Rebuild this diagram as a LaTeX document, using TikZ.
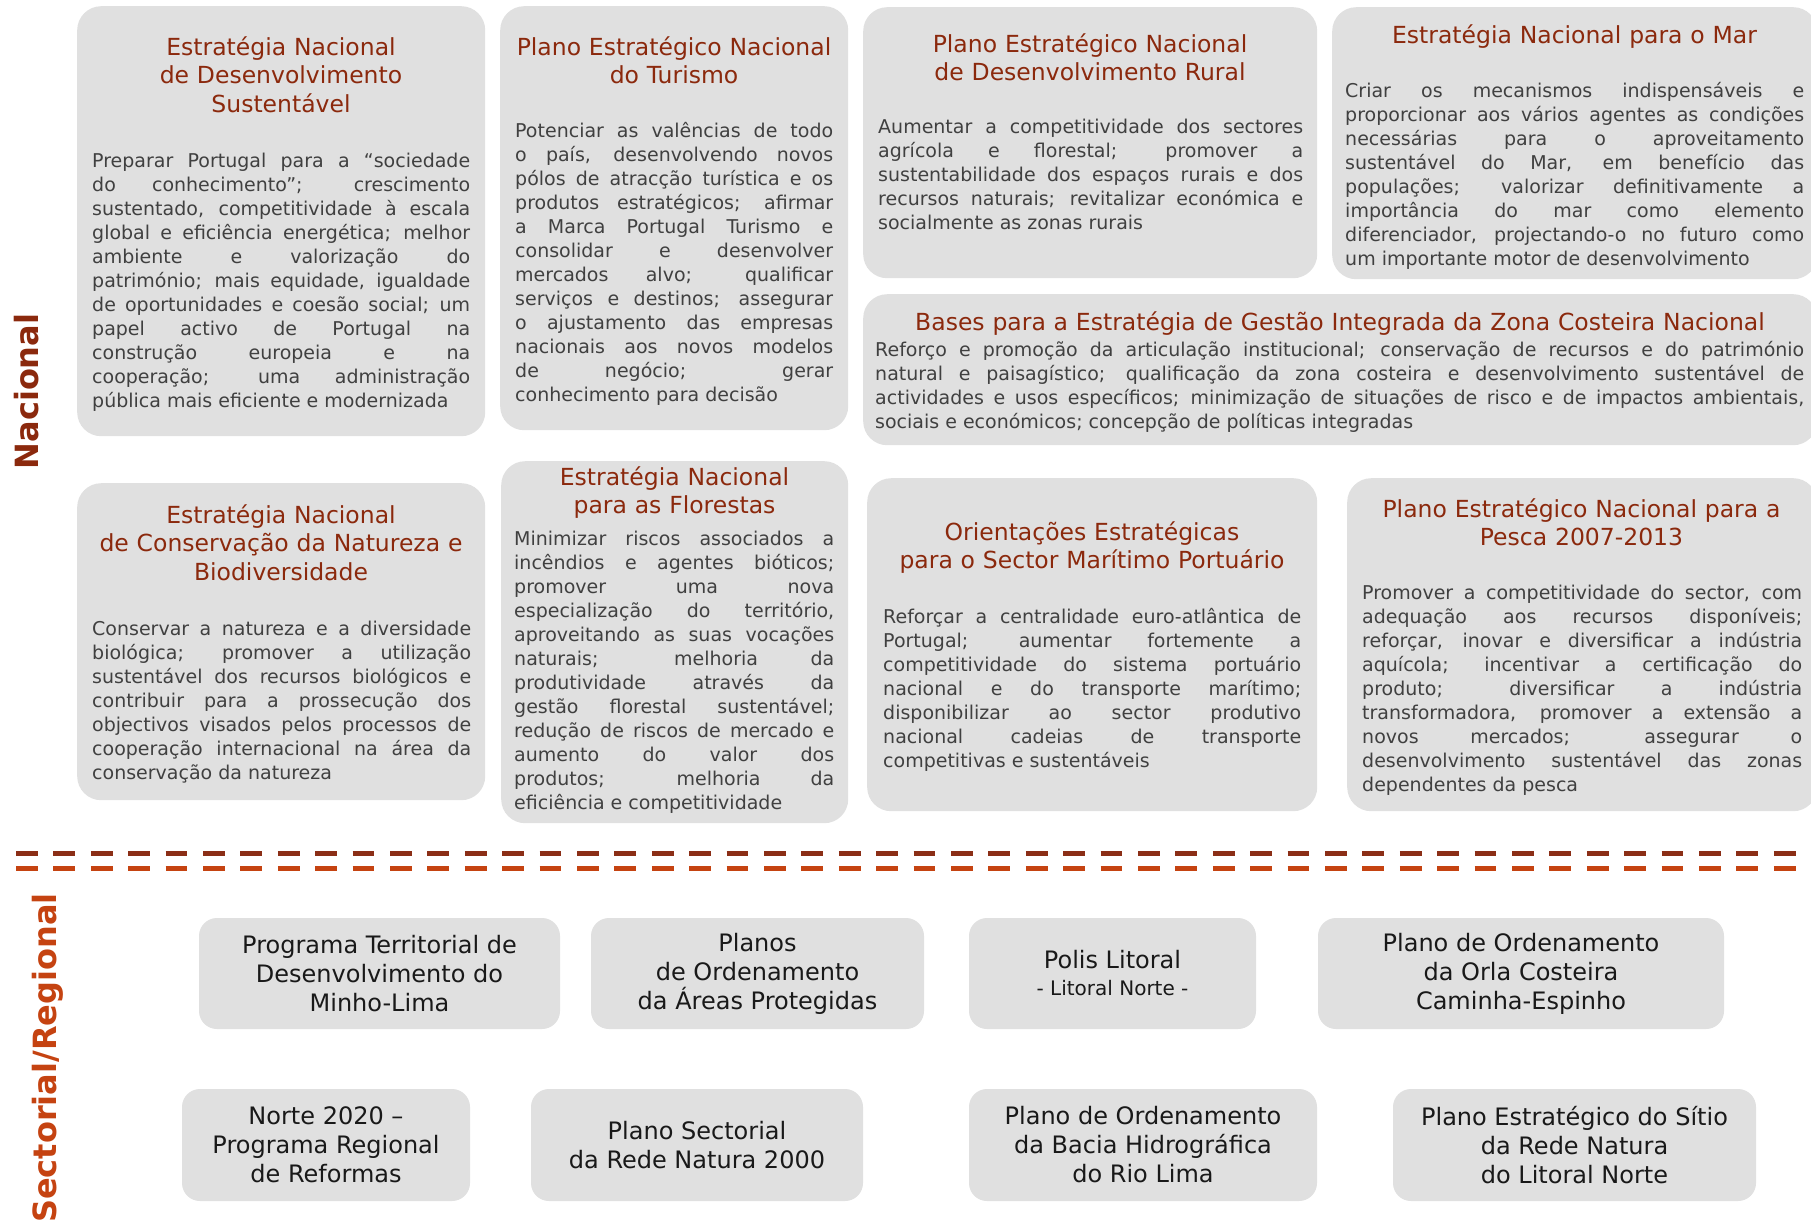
\documentclass[tikz,border=0pt]{standalone}
\usepackage{fontspec}
\setmainfont{DejaVu Sans}
\usepackage{xcolor}
\usetikzlibrary{positioning}

\definecolor{panelgray}{RGB}{224,224,224}
\definecolor{titlered}{RGB}{139,41,13}
\definecolor{bodygray}{RGB}{64,64,64}
\definecolor{darkrust}{RGB}{139,46,22}
\definecolor{rust}{RGB}{197,67,17}

\begin{document}
\begin{tikzpicture}[x=1pt, y=-1pt,
    panel/.style={fill=panelgray, draw=none, rounded corners=24pt, inner sep=0pt, anchor=north west},
    chip/.style={fill=panelgray, draw=none, rounded corners=18pt, inner sep=0pt, align=center,
      text=black!90, font=\fontsize{24}{29}\selectfont},
    heading/.style={text=titlered, align=center, inner sep=0pt, anchor=base,
      font=\fontsize{23.5}{28.5}\selectfont},
    blurb/.style={text=bodygray, align=justify, inner sep=0pt, anchor=base west,
      font=\fontsize{19}{24}\selectfont,
      execute at begin node={\tolerance=10000\hbadness=10000\hyphenpenalty=10000}},
    level/.style={rotate=90, anchor=base, inner sep=0pt, font=\fontsize{32}{38}\selectfont\bfseries},
    divider/.style={line width=5pt, dash pattern=on 21.7pt off 15.7pt}]

    % Draw page
    \fill[white] (0,0) rectangle (1811,1224);
    \useasboundingbox (0,0) rectangle (1811,1224);
    \clip (0,0) rectangle (1811,1224);

    % Draw level labels
    \node[level, text=titlered] (nacional) at (38,391.5) {Nacional};
    \node[level, text=rust] (sectorial) at (56,1058) {Sectorial/Regional};

    % Draw national strategies (upper row)
    \node[panel, minimum width=408pt, minimum height=430pt] (ends) at (77,6) {};
    \node[heading, text width=380pt] (endsT) at (281,55) {Estratégia Nacional\\de Desenvolvimento\\Sustentável};
    \node[blurb, text width=378pt] (endsB) at (92,167) {Preparar Portugal para a “sociedade\linebreak
      do conhecimento”; crescimento\linebreak
      sustentado, competitividade à escala\linebreak
      global e eficiência energética; melhor\linebreak
      ambiente e valorização do\linebreak
      património; mais equidade, igualdade\linebreak
      de oportunidades e coesão social; um\linebreak
      papel activo de Portugal na\linebreak
      construção europeia e na\linebreak
      cooperação; uma administração\linebreak
      pública mais eficiente e modernizada};

    \node[panel, minimum width=348pt, minimum height=424pt] (pent) at (500,6) {};
    \node[heading, text width=330pt] (pentT) at (674,55) {Plano Estratégico Nacional\\do Turismo};
    \node[blurb, text width=318pt] (pentB) at (515,137) {Potenciar as valências de todo\linebreak
      o país, desenvolvendo novos\linebreak
      pólos de atracção turística e os\linebreak
      produtos estratégicos; afirmar\linebreak
      a Marca Portugal Turismo e\linebreak
      consolidar e desenvolver\linebreak
      mercados alvo; qualificar\linebreak
      serviços e destinos; assegurar\linebreak
      o ajustamento das empresas\linebreak
      nacionais aos novos modelos\linebreak
      de negócio; gerar\linebreak
      conhecimento para decisão};

    \node[panel, minimum width=454pt, minimum height=271pt] (pendr) at (863,7) {};
    \node[heading, text width=430pt] (pendrT) at (1090,52) {Plano Estratégico Nacional\\de Desenvolvimento Rural};
    \node[blurb, text width=425pt] (pendrB) at (878,133) {Aumentar a competitividade dos sectores\linebreak
      agrícola e florestal; promover a\linebreak
      sustentabilidade dos espaços rurais e dos\linebreak
      recursos naturais; revitalizar económica e\linebreak
      socialmente as zonas rurais};

    \node[panel, minimum width=485pt, minimum height=272pt] (enm) at (1332,7) {};
    \node[heading, text width=460pt] (enmT) at (1574.5,43) {Estratégia Nacional para o Mar};
    \node[blurb, text width=459pt] (enmB) at (1345,97) {Criar os mecanismos indispensáveis e\linebreak
      proporcionar aos vários agentes as condições\linebreak
      necessárias para o aproveitamento\linebreak
      sustentável do Mar, em benefício das\linebreak
      populações; valorizar definitivamente a\linebreak
      importância do mar como elemento\linebreak
      diferenciador, projectando-o no futuro como\linebreak
      um importante motor de desenvolvimento};

    \node[panel, minimum width=954pt, minimum height=151pt] (gizc) at (863,294) {};
    \node[heading, text width=930pt] (gizcT) at (1340,330) {Bases para a Estratégia de Gestão Integrada da Zona Costeira Nacional};
    \node[blurb, text width=929pt] (gizcB) at (875,356) {Reforço e promoção da articulação institucional; conservação de recursos e do património\linebreak
      natural e paisagístico; qualificação da zona costeira e desenvolvimento sustentável de\linebreak
      actividades e usos específicos; minimização de situações de risco e de impactos ambientais,\linebreak
      sociais e económicos; concepção de políticas integradas};

    % Draw national strategies (lower row)
    \node[panel, minimum width=408pt, minimum height=317pt] (encnb) at (77,483) {};
    \node[heading, text width=400pt] (encnbT) at (281,523) {Estratégia Nacional\\de Conservação da Natureza e\\Biodiversidade};
    \node[blurb, text width=379pt] (encnbB) at (92,635) {Conservar a natureza e a diversidade\linebreak
      biológica; promover a utilização\linebreak
      sustentável dos recursos biológicos e\linebreak
      contribuir para a prossecução dos\linebreak
      objectivos visados pelos processos de\linebreak
      cooperação internacional na área da\linebreak
      conservação da natureza};

    \node[panel, minimum width=347pt, minimum height=362pt] (enf) at (501,461) {};
    \node[heading, text width=330pt] (enfT) at (674.5,485) {Estratégia Nacional\\para as Florestas};
    \node[blurb, text width=320pt] (enfB) at (514,545) {Minimizar riscos associados a\linebreak
      incêndios e agentes bióticos;\linebreak
      promover uma nova\linebreak
      especialização do território,\linebreak
      aproveitando as suas vocações\linebreak
      naturais; melhoria da\linebreak
      produtividade através da\linebreak
      gestão florestal sustentável;\linebreak
      redução de riscos de mercado e\linebreak
      aumento do valor dos\linebreak
      produtos; melhoria da\linebreak
      eficiência e competitividade};

    \node[panel, minimum width=450pt, minimum height=333pt] (oesmp) at (867,478) {};
    \node[heading, text width=430pt] (oesmpT) at (1092,540) {Orientações Estratégicas\\para o Sector Marítimo Portuário};
    \node[blurb, text width=418pt] (oesmpB) at (883,623) {Reforçar a centralidade euro-atlântica de\linebreak
      Portugal; aumentar fortemente a\linebreak
      competitividade do sistema portuário\linebreak
      nacional e do transporte marítimo;\linebreak
      disponibilizar ao sector produtivo\linebreak
      nacional cadeias de transporte\linebreak
      competitivas e sustentáveis};

    \node[panel, minimum width=470pt, minimum height=333pt] (penp) at (1347,478) {};
    \node[heading, text width=440pt] (penpT) at (1581.5,517) {Plano Estratégico Nacional para a\\Pesca 2007-2013};
    \node[blurb, text width=440pt] (penpB) at (1362,599) {Promover a competitividade do sector, com\linebreak
      adequação aos recursos disponíveis;\linebreak
      reforçar, inovar e diversificar a indústria\linebreak
      aquícola; incentivar a certificação do\linebreak
      produto; diversificar a indústria\linebreak
      transformadora, promover a extensão a\linebreak
      novos mercados; assegurar o\linebreak
      desenvolvimento sustentável das zonas\linebreak
      dependentes da pesca};

    % Draw separator between the two levels
    \coordinate (sepW) at (16,853.5);
    \coordinate (sepE) at (1811,853.5);
    \draw[divider, darkrust] (sepW) -- (sepE);
    \draw[divider, rust] ([yshift=-15pt]sepW) -- ([yshift=-15pt]sepE);

    % Draw sectorial / regional plans
    \node[chip, minimum width=361pt, minimum height=111pt] (ptdml) at (379.5,973.5) {Programa Territorial de\\Desenvolvimento do\\Minho-Lima};
    \node[chip, minimum width=333pt, minimum height=111pt] (poap) at (757.5,973.5) {Planos\\de Ordenamento\\da Áreas Protegidas};
    \node[chip, minimum width=287pt, minimum height=111pt] (polis) at (1112.5,973.5) {Polis Litoral\\[-2pt]{\fontsize{20}{24}\selectfont - Litoral Norte -}};
    \node[chip, minimum width=406pt, minimum height=111pt] (pooc) at (1521,973.5) {Plano de Ordenamento\\da Orla Costeira\\Caminha-Espinho};

    \node[chip, minimum width=288pt, minimum height=112pt] (norte) at (326,1145) {Norte 2020 –\\Programa Regional\\de Reformas};
    \node[chip, minimum width=332pt, minimum height=112pt] (psrn) at (697,1145) {Plano Sectorial\\da Rede Natura 2000};
    \node[chip, minimum width=348pt, minimum height=112pt] (pbh) at (1143,1145) {Plano de Ordenamento\\da Bacia Hidrográfica\\do Rio Lima};
    \node[chip, minimum width=363pt, minimum height=112pt] (pesrn) at (1574.5,1145) {Plano Estratégico do Sítio\\da Rede Natura\\do Litoral Norte};
\end{tikzpicture}
\end{document}
